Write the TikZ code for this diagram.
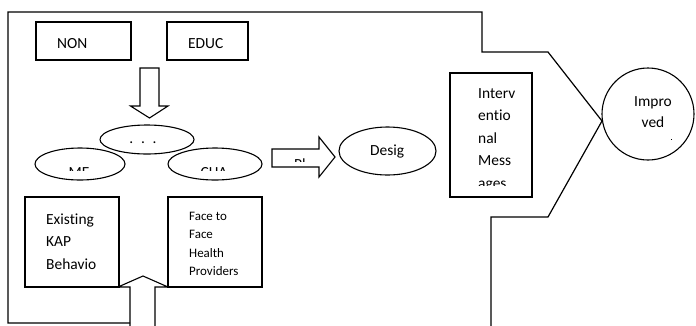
\documentclass[tikz,border=0pt]{standalone}
\usepackage{fontspec}
\setmainfont[Ligatures={NoCommon}]{Carlito}
\usetikzlibrary{shapes.geometric}
\tikzset{
  px/.style={x=1bp,y=-1bp},
  boxn/.style={draw,line width=1.1bp,rectangle,inner sep=0pt},
  elln/.style={draw,line width=1.1bp,ellipse,inner sep=0pt},
  blockarrow/.style={draw,line width=1.1bp,line join=miter},
  txt/.style={inner sep=0pt,anchor=base west,font=\fontsize{15.5}{22.5}\selectfont},
  txtc/.style={inner sep=0pt,anchor=base,font=\fontsize{15.5}{22.5}\selectfont},
  txts/.style={inner sep=0pt,anchor=base west,font=\fontsize{13}{18.5}\selectfont},
  outer/.style={draw,line width=1.2bp,line join=miter}
}
\begin{document}
\begin{tikzpicture}[px]
\useasboundingbox (0,0) rectangle (696,325);
% outer frame polyline
\coordinate (o1) at (130,323);
\coordinate (o2) at (8,323);
\coordinate (o3) at (8,12);
\coordinate (o4) at (482,12);
\coordinate (o5) at (482,52);
\coordinate (o6) at (548,52);
\coordinate (o7) at (602,121);
\coordinate (o8) at (548,217);
\coordinate (o9) at (491,217);
\coordinate (o10) at (491,326);
\draw[outer] (o1) -- (o2) -- (o3) -- (o4) -- (o5) -- (o6) -- (o7) -- (o8) -- (o9) -- (o10);

% top boxes
\node[boxn,minimum width=95bp,minimum height=38bp] (non) at (83.5,41) {};
\node[txt] (nont) at (57,48) {NON};
\node[boxn,minimum width=81bp,minimum height=38bp] (educ) at (207.5,41) {};
\node[txt] (educt) at (188,48) {EDUC};

% down block arrow
\draw[blockarrow] (140,68) -- (159,68) -- (159,106) -- (168,106) -- (149.5,118) -- (130.5,106) -- (140,106) -- cycle;

% ellipses
\node[elln,minimum width=94bp,minimum height=29bp] (top) at (147,139.5) {};
\node[txtc] (topt) at (143,143.5) {.\,\,\,.\,\,\,.};
\node[elln,minimum width=90bp,minimum height=32bp] (me) at (80,164) {};
\node[elln,minimum width=94bp,minimum height=32bp] (cha) at (215,164) {};
\begin{scope}
  \clip (30,150) rectangle (270,170.5);
  \node[txtc] (met) at (79,177) {ME};
  \node[txtc] (chat) at (214,177) {CHA};
\end{scope}

% right block arrow
\draw[blockarrow] (272,149) -- (319,149) -- (319,137) -- (335,157) -- (319,177) -- (319,167) -- (272,167) -- cycle;
\begin{scope}
  \clip (280,150) rectangle (318,161.5);
  \node[txtc] (plt) at (300,169) {Pl};
\end{scope}

% Desig ellipse
\node[elln,minimum width=97bp,minimum height=48bp] (desig) at (387.5,151) {};
\node[txt] (desigt) at (370,155) {Desig};

% Interventional messages box
\node[boxn,minimum width=82bp,minimum height=124bp] (interv) at (491,135) {};
\node[txt] (i1) at (478,98) {Interv};
\node[txt] (i2) at (478,120.5) {entio};
\node[txt] (i3) at (478,143) {nal};
\node[txt] (i4) at (478,165.5) {Mess};
\begin{scope}
  \clip (452,170) rectangle (530,185.5);
  \node[txt] (i5) at (478,188) {ages};
\end{scope}

% Improved circle
\node[draw,line width=1.1bp,circle,inner sep=0pt,minimum size=92bp] (impr) at (648,114) {};
\node[txtc] (imp1) at (653,106) {Impro};
\node[txtc] (imp2) at (653,127) {ved};
\fill (670.5,138.5) rectangle (672,140);

% bottom boxes
\node[boxn,minimum width=94bp,minimum height=90bp] (kap) at (72,242) {};
\node[txt] (k1) at (46,224) {Existing};
\node[txt] (k2) at (46,246.5) {KAP};
\node[txt] (k3) at (46,269) {Behavio};
\node[boxn,minimum width=94bp,minimum height=90bp] (face) at (215,242) {};
\node[txts] (f1) at (189,220) {Face to};
\node[txts] (f2) at (189,238.5) {Face};
\node[txts] (f3) at (189,257) {Health};
\node[txts] (f4) at (189,275.5) {Providers};

% up block arrow
\draw[blockarrow] (130,326) -- (130,287) -- (118,287) -- (143,276) -- (168,287) -- (155,287) -- (155,326);
\end{tikzpicture}
\end{document}
